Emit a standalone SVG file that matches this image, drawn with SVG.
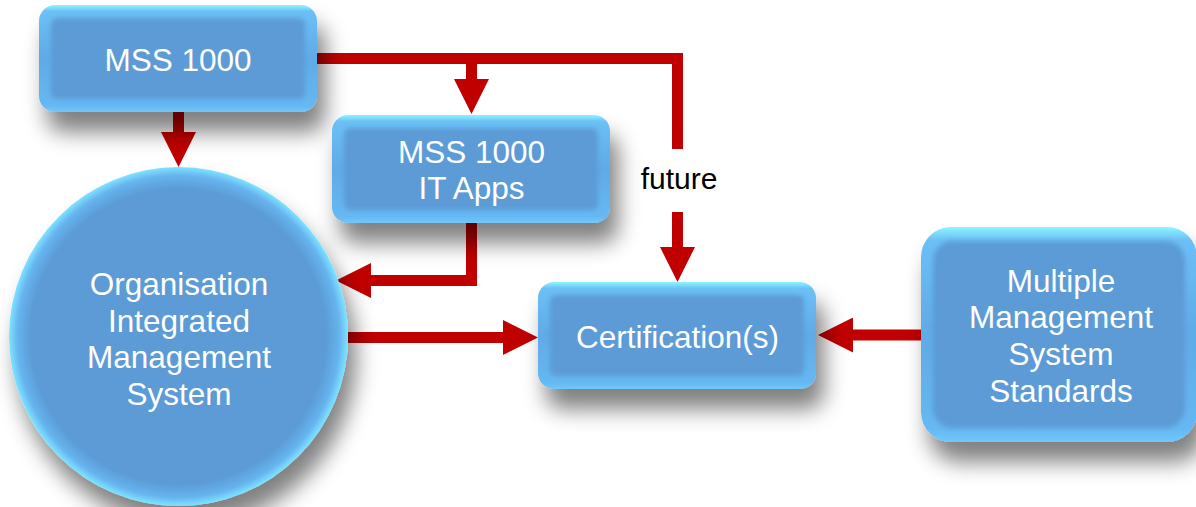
<svg xmlns="http://www.w3.org/2000/svg" width="1196" height="507" viewBox="0 0 1196 507">
<style>
  .lbl { font-family: "Liberation Sans", Arial, sans-serif; font-size: 31.5px; fill: #ffffff; text-anchor: middle; }
  .note { font-family: "Liberation Sans", Arial, sans-serif; font-size: 30px; fill: #000000; text-anchor: middle; }
  .conn { fill: none; stroke: #c00000; stroke-width: 11; stroke-linejoin: miter; marker-end: url(#head); }
  .box { fill: url(#boxGrad); filter: url(#shadow); }
  .inner { fill: #5b9bd5; filter: url(#soft); }
</style>
<defs>
  <linearGradient id="boxGrad" x1="0" y1="0" x2="0" y2="1">
    <stop offset="0" stop-color="#8cf6ff"/>
    <stop offset="0.06" stop-color="#6cc0f6"/>
    <stop offset="0.5" stop-color="#60aae8"/>
    <stop offset="0.94" stop-color="#66b8f2"/>
    <stop offset="1" stop-color="#70c8fa"/>
  </linearGradient>
  <radialGradient id="circGrad" cx="0.5" cy="0.5" r="0.5">
    <stop offset="0" stop-color="#5b9bd5"/>
    <stop offset="0.87" stop-color="#5b9bd5"/>
    <stop offset="0.95" stop-color="#66b4ef"/>
    <stop offset="1" stop-color="#7ee4ff"/>
  </radialGradient>
  <filter id="shadow" x="-25%" y="-25%" width="160%" height="170%">
    <feGaussianBlur in="SourceAlpha" stdDeviation="11"/>
    <feOffset dx="8" dy="20" result="b"/>
    <feComponentTransfer><feFuncA type="linear" slope="0.5"/></feComponentTransfer>
    <feMerge><feMergeNode/><feMergeNode in="SourceGraphic"/></feMerge>
  </filter>
  <filter id="soft" x="-10%" y="-10%" width="120%" height="120%">
    <feGaussianBlur stdDeviation="2.5"/>
  </filter>
  <marker id="head" viewBox="0 0 35 35" refX="1" refY="17.5" markerWidth="35" markerHeight="35" markerUnits="userSpaceOnUse" orient="auto">
    <path d="M0,0 L35,17.5 L0,35 Z" fill="#c00000"/>
  </marker>
</defs>

<g id="connectors">
  <path class="conn" d="M317,58.5 H677.5 V149" style="marker-end:none"/>
  <path class="conn" d="M178.5,112 V133"/>
  <path class="conn" d="M471.5,58.5 V80"/>
  <path class="conn" d="M677.5,212 V248"/>
  <path class="conn" d="M471.5,223 V280.5 H370"/>
  <path class="conn" d="M348,337.5 H504"/>
  <path class="conn" d="M922,335 H852"/>
</g>

<g id="node-mss1000">
  <rect class="box" x="39" y="5" width="278" height="107" rx="16"/>
  <rect class="inner" x="51" y="18" width="254" height="81" rx="6"/>
  <text class="lbl" x="178" y="71">MSS 1000</text>
</g>

<g id="node-itapps">
  <rect class="box" x="332" y="115" width="278" height="108" rx="16"/>
  <rect class="inner" x="344" y="128" width="254" height="82" rx="6"/>
  <text class="lbl" x="471.5" y="163">MSS 1000</text>
  <text class="lbl" x="471.5" y="199">IT Apps</text>
</g>

<g id="node-oims">
  <circle cx="178.5" cy="336.5" r="169.5" fill="url(#circGrad)" filter="url(#shadow)"/>
  <text class="lbl" x="179" y="295">Organisation</text>
  <text class="lbl" x="179" y="332">Integrated</text>
  <text class="lbl" x="179" y="368">Management</text>
  <text class="lbl" x="179" y="405">System</text>
</g>

<g id="node-cert">
  <rect class="box" x="538" y="282" width="278" height="107" rx="16"/>
  <rect class="inner" x="550" y="295" width="254" height="81" rx="6"/>
  <text class="lbl" x="677.5" y="348">Certification(s)</text>
</g>

<g id="node-mmss">
  <rect class="box" x="921" y="227" width="276" height="215" rx="30"/>
  <rect class="inner" x="933" y="241" width="252" height="187" rx="20"/>
  <text class="lbl" x="1061" y="292">Multiple</text>
  <text class="lbl" x="1061" y="328">Management</text>
  <text class="lbl" x="1061" y="365">System</text>
  <text class="lbl" x="1061" y="402">Standards</text>
</g>

<g id="label-future">
  <text class="note" x="679" y="189">future</text>
</g>
</svg>
